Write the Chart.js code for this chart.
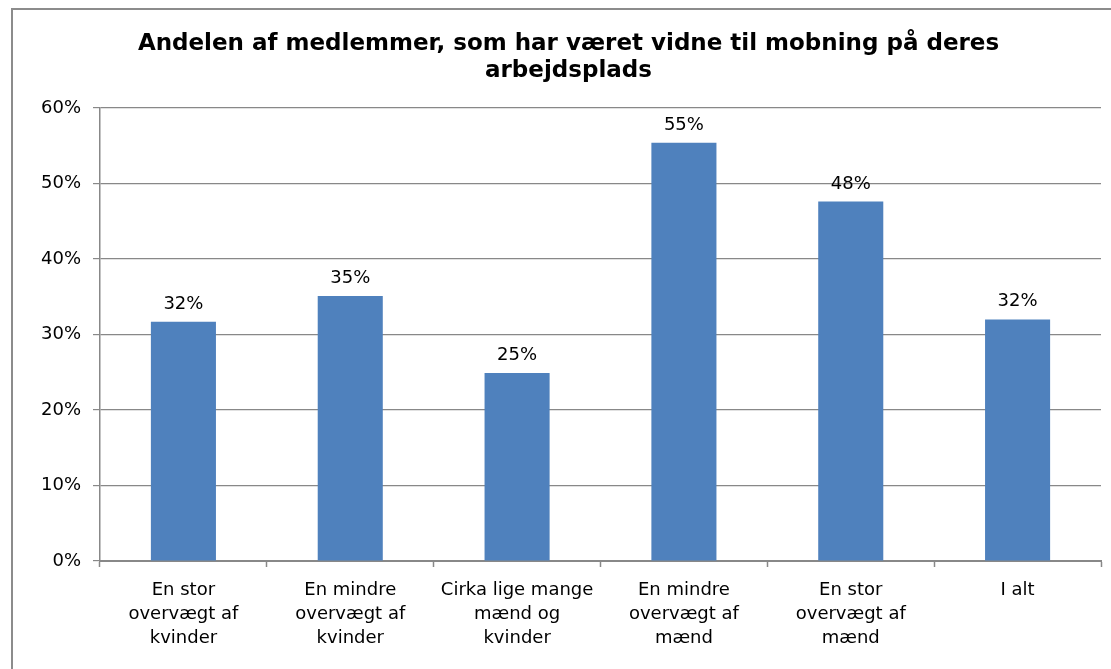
<!DOCTYPE html>
<html>
<head>
<meta charset="utf-8">
<script src="https://cdn.jsdelivr.net/npm/chart.js@4/dist/chart.umd.min.js"></script>
<style>
  html, body { margin: 0; padding: 0; background: #fff; }
  #wrap { width: 1111px; height: 669px; }
</style>
</head>
<body>
<div id="wrap"><canvas id="chart" width="1111" height="669"></canvas></div>
<script>
    // data
    var titleLines = ["Andelen af medlemmer, som har været vidne til mobning på deres", "arbejdsplads"];
    var categories = [
        ["En stor", "overvægt af", "kvinder"],
        ["En mindre", "overvægt af", "kvinder"],
        ["Cirka lige mange", "mænd og", "kvinder"],
        ["En mindre", "overvægt af", "mænd"],
        ["En stor", "overvægt af", "mænd"],
        ["I alt"]
    ];
    var shares     = [31.7, 35.1, 24.9, 55.4, 47.6, 32.0];
    var shareLabels = ["32%", "35%", "25%", "55%", "48%", "32%"];
    var yTicks     = [0, 10, 20, 30, 40, 50, 60];

    var FONT = "'DejaVu Sans', Verdana, sans-serif";
    var GRID = "#888888";

    // frame round the chart (left and top edge only, the rest is cut off)
    var framePlugin = {
        id: "frame",
        beforeDraw: function(chart) {
            var ctx = chart.ctx;
            ctx.save();
            ctx.strokeStyle = "#8c8c8c";
            ctx.lineWidth = 2;
            ctx.beginPath();
            ctx.moveTo(12, 669);
            ctx.lineTo(12, 9);
            ctx.lineTo(1111, 9);
            ctx.stroke();
            ctx.restore();
        }
    };

    // value labels above the bars
    var valueLabels = {
        id: "valueLabels",
        afterDatasetsDraw: function(chart) {
            var ctx = chart.ctx;
            var meta = chart.getDatasetMeta(0);
            ctx.save();
            ctx.font = "18px " + FONT;
            ctx.fillStyle = "#000";
            ctx.textAlign = "center";
            ctx.textBaseline = "alphabetic";
            meta.data.forEach(function(bar, i) {
                ctx.fillText(shareLabels[i], bar.x, bar.y - 13);
            });
            ctx.restore();
        }
    };

    var ctx = document.getElementById("chart").getContext("2d");

    var chart = new Chart(ctx, {
        type: "bar",
        data: {
            labels: categories,
            datasets: [{
                data: shares,
                backgroundColor: "#4F81BD",
                borderWidth: 0,
                barPercentage: 0.39,
                categoryPercentage: 1.0
            }]
        },
        options: {
            responsive: false,
            animation: false,
            // left padding pushes the centred title to where the original has it
            layout: { padding: { left: 36, right: 10, top: 0, bottom: 0 } },
            plugins: {
                legend: { display: false },
                tooltip: { enabled: false },
                title: {
                    display: true,
                    text: titleLines,
                    color: "#000",
                    font: { family: FONT, size: 23, weight: "bold", lineHeight: 1.174 },
                    padding: { top: 31, bottom: 23 }
                }
            },
            scales: {
                x: {
                    offset: true,
                    grid: {
                        display: true,
                        drawOnChartArea: false,
                        drawTicks: true,
                        tickLength: 6,
                        tickColor: GRID,
                        tickWidth: 1.5,
                        offset: true
                    },
                    border: { display: true, color: GRID, width: 2 },
                    ticks: {
                        color: "#000",
                        padding: 11,
                        maxRotation: 0,
                        autoSkip: false,
                        font: { family: FONT, size: 18, lineHeight: 1.35 }
                    },
                    afterFit: function(scale) { scale.height = 108; }
                },
                y: {
                    min: 0,
                    max: 60,
                    afterBuildTicks: function(scale) {
                        scale.ticks = yTicks.map(function(v) { return { value: v }; });
                    },
                    grid: {
                        color: GRID,
                        lineWidth: 1.2,
                        drawTicks: true,
                        tickLength: 7,
                        tickColor: GRID
                    },
                    border: { display: true, color: GRID, width: 1.5 },
                    ticks: {
                        color: "#000",
                        padding: 12,
                        font: { family: FONT, size: 18 },
                        callback: function(v) { return v + "%"; }
                    },
                    afterFit: function(scale) { scale.width = 64; }
                }
            }
        },
        plugins: [framePlugin, valueLabels]
    });
</script>
</body>
</html>
